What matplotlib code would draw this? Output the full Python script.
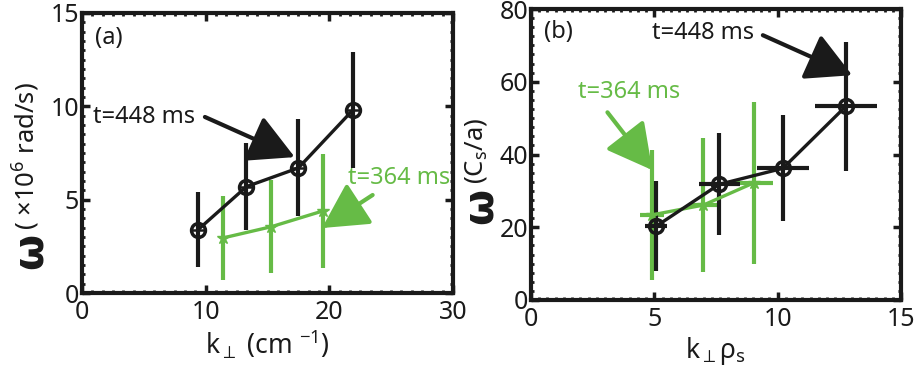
import numpy as np
import matplotlib.pyplot as plt
from matplotlib.ticker import MultipleLocator

plt.rcParams['font.family'] = ['Noto Sans', 'DejaVu Sans']
plt.rcParams['mathtext.fontset'] = 'custom'
plt.rcParams['mathtext.rm'] = 'Noto Sans'
plt.rcParams['mathtext.it'] = 'Noto Sans'
plt.rcParams['mathtext.default'] = 'regular'

# (a) frequency vs k_perp, t=448 ms (black) and t=364 ms (green)
k_448 = [9.4, 13.3, 17.5, 21.9]
w_448 = [3.4, 5.7, 6.7, 9.8]
werr_448 = [2.0, 2.35, 2.6, 3.1]

k_364 = [11.4, 15.3, 19.5]
w_364 = [2.95, 3.55, 4.4]
werr_364 = [2.25, 2.5, 3.05]

# (b) normalized frequency vs k_perp rho_s
kr_448 = [5.08, 7.63, 10.21, 12.77]
kr_err_448 = [0.45, 0.83, 1.05, 1.27]
wn_448 = [20.3, 31.8, 36.2, 53.3]
wn_err_448 = [12.4, 14.0, 14.6, 17.7]

kr_364 = [4.91, 6.99, 9.03]
kr_err_364 = [0.5, 0.6, 0.8]
wn_364 = [23.4, 26.1, 32.2]
wn_err_364 = [17.8, 18.5, 22.3]

black = '#1a1a1a'
green = '#66bb46'

fig = plt.figure(figsize=(9.18, 3.71), dpi=100)
ax1 = fig.add_axes([0.0893, 0.2102, 0.4042, 0.7548])
ax2 = fig.add_axes([0.5784, 0.1914, 0.4031, 0.7843])


def style_axes(ax, xmaj, xmin, ymaj, ymin):
    for s in ax.spines.values():
        s.set_linewidth(3)
        s.set_color(black)
    ax.xaxis.set_major_locator(MultipleLocator(xmaj))
    ax.xaxis.set_minor_locator(MultipleLocator(xmin))
    ax.yaxis.set_major_locator(MultipleLocator(ymaj))
    ax.yaxis.set_minor_locator(MultipleLocator(ymin))
    ax.tick_params(which='major', direction='in', length=6, width=2.5,
                   top=True, right=True, labelsize=18, colors=black)
    ax.tick_params(axis='x', which='major', pad=5)
    ax.tick_params(axis='y', which='major', pad=2)
    ax.tick_params(which='minor', direction='in', length=2.5, width=2,
                   top=True, right=True, colors=black)


def draw_series(ax, x, y, yerr, xerr, color, marker, ms):
    ax.errorbar(x, y, yerr=yerr, xerr=xerr, fmt='-', color=color, lw=2.4,
                elinewidth=3, capsize=0, zorder=3)
    if marker == 'o':
        ax.plot(x, y, 'o', ms=ms, mfc='none', mec=color, mew=2.5, zorder=4)
        ax.plot(x, y, '+', ms=ms * 0.8, mec=color, mew=1.8, zorder=4)
    else:
        ax.plot(x, y, marker, ms=ms, color=color, mew=1, zorder=4)


def arrow(ax, tail, tip, color):
    ax.annotate('', xy=tip, xytext=tail,
                arrowprops=dict(arrowstyle='-|>,head_length=1.4,head_width=0.75',
                                color=color, lw=3, mutation_scale=20,
                                shrinkA=0, shrinkB=0), zorder=6)


def omega_label(ax, x, y_omega, y_rest, rest):
    ax.text(x, y_omega, 'ω', transform=ax.transAxes, rotation=90,
            fontsize=30, fontweight='bold', family='DejaVu Sans',
            ha='center', va='bottom', color=black)
    ax.text(x - 0.01, y_rest, rest, transform=ax.transAxes, rotation=90,
            fontsize=18.5, ha='center', va='bottom', color=black)


# panel (a)
draw_series(ax1, k_364, w_364, werr_364, None, green, '*', 9)
draw_series(ax1, k_448, w_448, werr_448, None, black, 'o', 10)
ax1.set_xlim(0, 30)
ax1.set_ylim(0, 15)
style_axes(ax1, 10, 30 / 36, 5, 0.5)
ax1.set_xlabel(r'k$_{\perp}$ (cm $^{-1}$)', fontsize=19, labelpad=2, color=black)
omega_label(ax1, -0.14, 0.085, 0.225, r'( $\times$10$^{6}$ rad/s)')
ax1.text(0.035, 0.91, '(a)', transform=ax1.transAxes, fontsize=17,
         va='center', color=black)
ax1.text(0.9, 9.43, 't=448 ms', fontsize=17, va='center', color=black)
arrow(ax1, (9.94, 9.43), (17.2, 7.28), black)
ax1.text(21.5, 6.16, 't=364 ms', fontsize=17, va='center', color=green)
arrow(ax1, (23.5, 5.25), (19.4, 3.48), green)

# panel (b)
draw_series(ax2, kr_364, wn_364, wn_err_364, kr_err_364, green, '*', 9)
draw_series(ax2, kr_448, wn_448, wn_err_448, kr_err_448, black, 'o', 10)
ax2.set_xlim(0, 15)
ax2.set_ylim(0, 80)
style_axes(ax2, 5, 1 / 3, 20, 2.5)
ax2.set_xlabel(r'k$_{\perp}$ρ$_{s}$', fontsize=19, labelpad=2, color=black)
omega_label(ax2, -0.138, 0.26, 0.40, r'(C$_{s}$/a)')
ax2.text(0.035, 0.92, '(b)', transform=ax2.transAxes, fontsize=17,
         va='center', color=black)
ax2.text(4.92, 73.4, 't=448 ms', fontsize=17, va='center', color=black)
arrow(ax2, (9.4, 72.8), (13.02, 61.8), black)
ax2.text(1.9, 57.1, 't=364 ms', fontsize=17, va='center', color=green)
arrow(ax2, (3.1, 51.6), (4.92, 35.7), green)

fig.savefig('out.png', dpi=100)
